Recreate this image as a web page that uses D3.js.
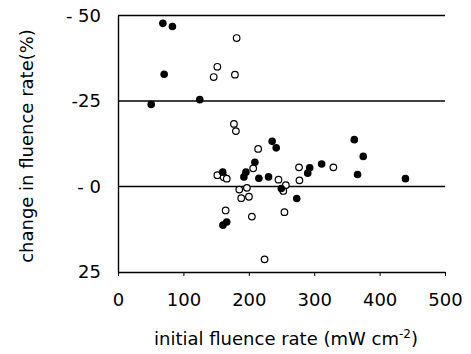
<!DOCTYPE html>
<html>
<head>
<meta charset="utf-8">
<script src="https://cdn.jsdelivr.net/npm/d3@7"></script>
<style>
  body { margin: 0; background: #fff; }
  text { font-family: "DejaVu Sans", sans-serif; fill: #000; }
</style>
</head>
<body>
<div id="chart-area"></div>
<script>
// fluence rate (x) vs change in fluence rate % (y)
var filledX = [68.6, 83.2, 70.6, 50.8, 125, 235.7, 241.9, 209.3, 195.6, 192.5, 160.1, 215.4,
               230.2, 249.7, 273.3, 160.5, 166.2, 361.3, 375, 366.3, 439.5, 311.4, 293.1, 290.1];
var filledY = [-47.7, -46.8, -32.8, -24.0, -25.4, -13.2, -11.3, -7.1, -4.2, -2.8, -4.2, -2.4,
               -2.8, 0.6, 3.5, 11.3, 10.4, -13.7, -8.8, -3.5, -2.3, -6.6, -5.5, -3.9];

var openX = [181.4, 151.9, 146.3, 178.8, 177.3, 180.3, 214.3, 206.7, 151.9, 161.7, 166.3, 185.4,
             197.1, 188.4, 200.2, 164.6, 204.7, 224.1, 245.4, 256.6, 252.7, 254.5, 276.8, 277.4, 329.3];
var openY = [-43.4, -35.0, -32.0, -32.7, -18.3, -16.2, -11.0, -5.3, -3.3, -2.7, -2.3, 0.9,
             0.4, 3.4, 3.0, 7.0, 8.8, 21.3, -2.0, -0.4, 1.3, 7.5, -5.6, -1.8, -5.6];

var xTicks = [0, 100, 200, 300, 400, 500];
var yLines = [-50, -25, 0];
var yTicks = [-50, -25, 0, 25];
var yTickLabels = ["- 50", "-25", "- 0", "25"];

var margin = { left: 118, right: 26, top: 15.5, bottom: 82 };
var width = 471 - margin.left - margin.right,
    height = 354 - margin.top - margin.bottom;

var svg = d3.select("#chart-area")
    .append("svg")
        .attr("width", 471)
        .attr("height", 354);

var g = svg.append("g")
    .attr("transform", "translate(" + margin.left + "," + margin.top + ")");

var x = d3.scaleLinear().domain([0, 500]).range([0, width]);
var y = d3.scaleLinear().domain([-50, 25]).range([0, height]);

// horizontal reference lines
g.selectAll("line.hl")
    .data(yLines)
    .enter()
    .append("line")
        .attr("class", "hl")
        .attr("x1", 0)
        .attr("x2", width)
        .attr("y1", function(d){ return y(d); })
        .attr("y2", function(d){ return y(d); })
        .attr("stroke", "#000")
        .attr("stroke-width", 1.4);

// x axis
var xAxis = g.append("g")
    .attr("transform", "translate(0," + height + ")")
    .call(d3.axisBottom(x).tickValues(xTicks).tickSize(4).tickSizeOuter(0).tickPadding(17));
xAxis.select(".domain").attr("stroke-width", 1.4);
xAxis.selectAll("text").style("font-size", "18px");

// y axis line, no ticks
var yAxis = g.append("g")
    .call(d3.axisLeft(y).tickValues(yTicks).tickSize(0).tickPadding(17)
        .tickFormat(function(d, i){ return yTickLabels[i]; }));
yAxis.select(".domain").attr("stroke-width", 1.4);
yAxis.selectAll("text").style("font-size", "18px");

// points
var filled = filledX.map(function(v, i){ return { x: v, y: filledY[i] }; });
var open = openX.map(function(v, i){ return { x: v, y: openY[i] }; });

g.selectAll("circle.open")
    .data(open)
    .enter()
    .append("circle")
        .attr("class", "open")
        .attr("cx", function(d){ return x(d.x); })
        .attr("cy", function(d){ return y(d.y); })
        .attr("r", 3.3)
        .attr("fill", "#fff")
        .attr("stroke", "#000")
        .attr("stroke-width", 1.2);

g.selectAll("circle.filled")
    .data(filled)
    .enter()
    .append("circle")
        .attr("class", "filled")
        .attr("cx", function(d){ return x(d.x); })
        .attr("cy", function(d){ return y(d.y); })
        .attr("r", 3.8)
        .attr("fill", "#000");

// axis titles
var xt = svg.append("text")
    .attr("x", 286)
    .attr("y", 345)
    .attr("text-anchor", "middle")
    .style("font-size", "18px");
xt.append("tspan").text("initial fluence rate (mW cm");
xt.append("tspan").attr("dy", -7).style("font-size", "12px").text("-2");
xt.append("tspan").attr("dy", 7).text(")");

svg.append("text")
    .attr("transform", "translate(33,146) rotate(-90)")
    .attr("text-anchor", "middle")
    .style("font-size", "18px")
    .text("change in fluence rate(%)");
</script>
</body>
</html>
